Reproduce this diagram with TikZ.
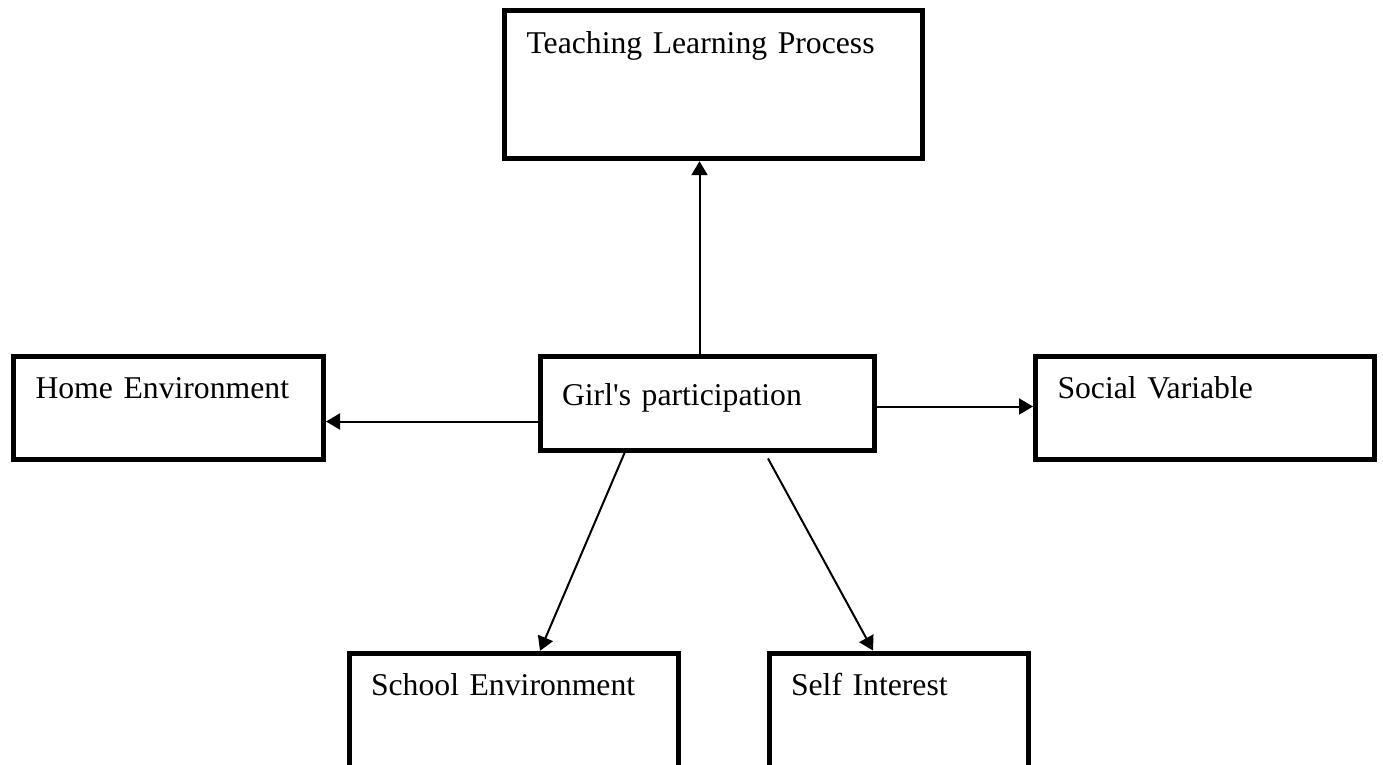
\documentclass[tikz,border=0pt]{standalone}
\usepackage{fontspec}
\setmainfont{Liberation Serif}
\usetikzlibrary{arrows.meta}
\begin{document}
\begin{tikzpicture}[x=1pt,y=-1pt,
  bx/.style={draw=black, line width=5pt, anchor=north west, inner xsep=22pt, inner ysep=0pt,
    align=left, font=\fontsize{31.7}{38}\selectfont},
  arr/.style={line width=2pt, -{Triangle[length=14pt,width=16pt]}}]
\useasboundingbox (0,0) rectangle (1383,764);
\clip (0,0) rectangle (1383,764);
\fill[white] (0,0) rectangle (1383,764);
% boxes (outer corner = centre line - 2.5)
\node[bx, text width=373.5pt, text height=43pt, text depth=105.7pt] (teach) at (502,7.5) {Teaching Learning Process};
\node[bx, text width=266pt, text height=41.5pt, text depth=61pt] (home) at (11,354) {Home Environment};
\node[bx, text width=290.5pt, text height=48.5pt, text depth=45.5pt] (girl) at (537.5,354) {Girl\textquotesingle s participation};
\node[bx, text width=295pt, text height=41.5pt, text depth=61pt] (social) at (1033,354) {Social Variable};
\node[bx, text width=285.5pt, text height=41.7pt, text depth=73pt] (school) at (346.5,650.8) {School Environment};
\node[bx, text width=215pt, text height=42pt, text depth=73pt] (self) at (766.5,650.5) {Self Interest};
% connector end points
\coordinate (up) at ([xshift=162pt]girl.north west);
\coordinate (hl) at ([yshift=-67.5pt]girl.north west);
\coordinate (hr) at ([yshift=-52.5pt]girl.north east);
\coordinate (dl) at ([xshift=87pt]girl.south west);
\coordinate (dr) at ([xshift=230.5pt,yshift=-5.5pt]girl.south west);
\coordinate (tl) at ([xshift=193.5pt]school.north west);
\coordinate (tr) at ([xshift=106.5pt]self.north west);
% connectors
\draw[arr] (up) -- (up |- teach.south);
\draw[arr] (hl) -- (home.east |- hl);
\draw[arr] (hr) -- (social.west |- hr);
\draw[arr] (dl) -- (tl);
\draw[arr] (dr) -- (tr);
\end{tikzpicture}
\end{document}
